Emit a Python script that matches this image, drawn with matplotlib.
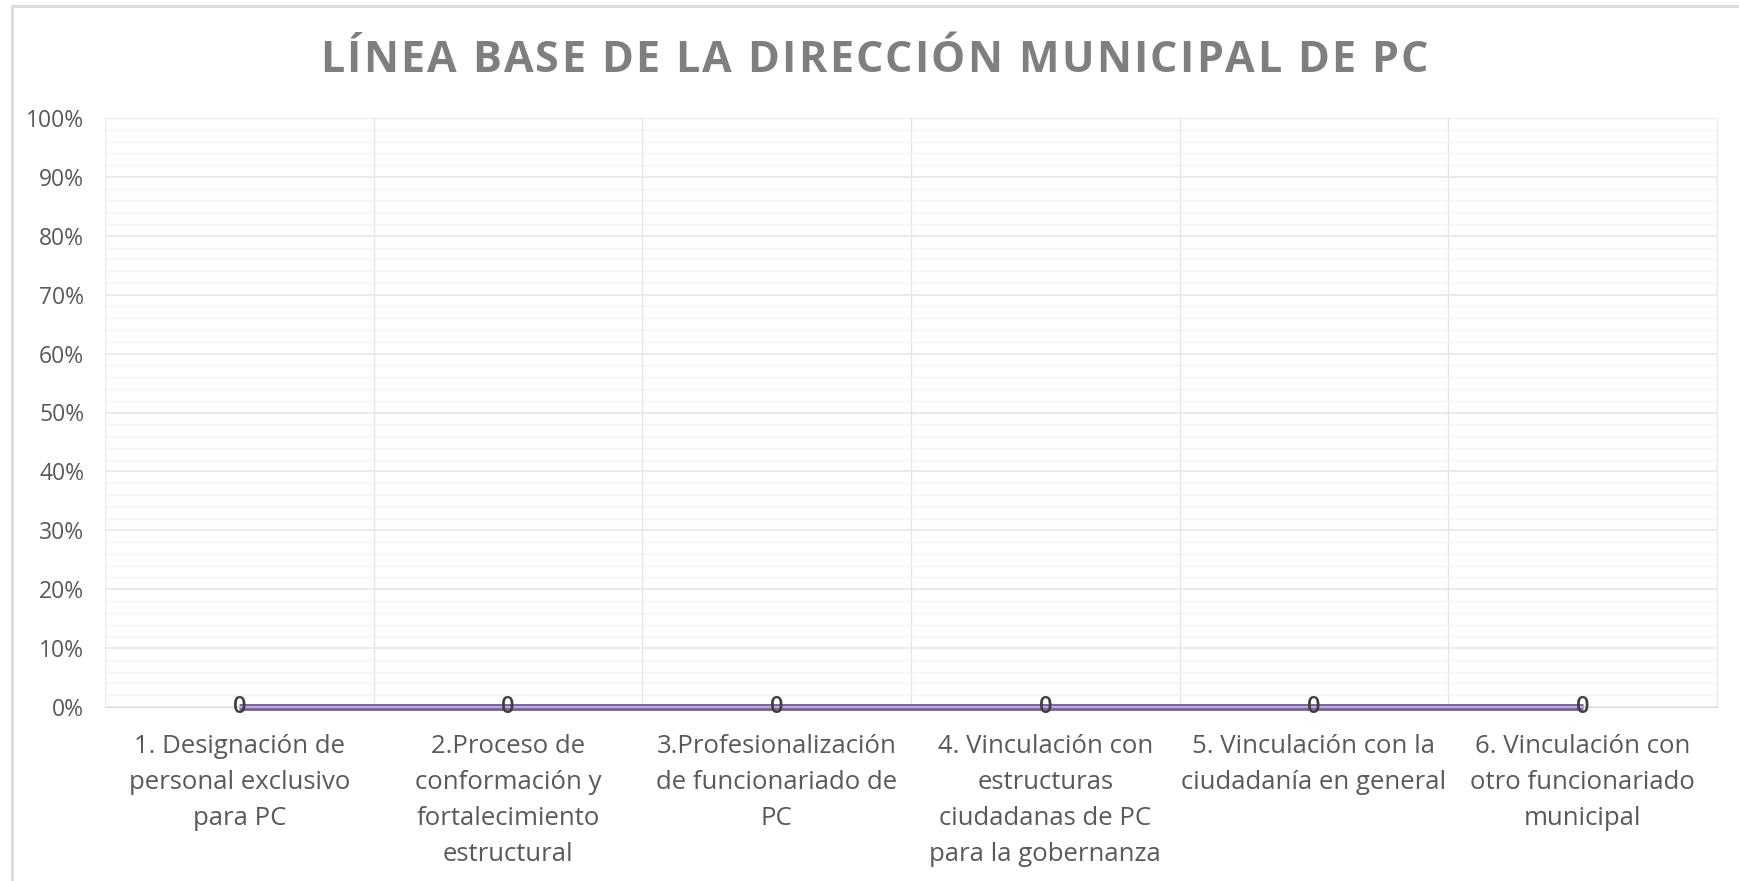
import matplotlib.pyplot as plt
from matplotlib.ticker import MultipleLocator, PercentFormatter, FixedLocator
from matplotlib.lines import Line2D

# Chart data
categories = [
  "1. Designación de\npersonal exclusivo\npara PC",
  "2.Proceso de\nconformación y\nfortalecimiento\nestructural",
  "3.Profesionalización\nde funcionariado de\nPC",
  "4. Vinculación con\nestructuras\nciudadanas de PC\npara la gobernanza",
  "5. Vinculación con la\nciudadanía en general",
  "6. Vinculación con\notro funcionariado\nmunicipal",
]
serie_base = [0, 0, 0, 0, 0, 0]
serie_meta = [0, 0, 0, 0, 0, 0]
y_ticks = [0, 10, 20, 30, 40, 50, 60, 70, 80, 90, 100]
title_text = "LÍNEA BASE DE LA DIRECCIÓN MUNICIPAL DE PC"

W, H = 1740, 881
plt.rcParams['font.family'] = ['Open Sans', 'DejaVu Sans']

fig = plt.figure(figsize=(W / 100, H / 100), dpi=100)
ax = fig.add_axes([105 / W, 1 - 707 / H, (1717 - 105) / W, (707 - 118) / H])

x = list(range(len(categories)))

# Lines (purple with lighter lower edge)
ax.plot(x, serie_base, color="#7F64A2", linewidth=5, solid_capstyle="butt", zorder=3, clip_on=False)
ax.plot(x, serie_meta, color="#C4B8D4", linewidth=1.3, solid_capstyle="butt", zorder=4, clip_on=False)

# Data labels
for xi, v in zip(x, serie_base):
  ax.text(xi, v, "{:g}".format(v), ha="center", va="center", fontsize=17, fontweight="semibold",
          color="#404040", zorder=5, clip_on=False)

ax.set_xlim(-0.5, len(categories) - 0.5)
ax.set_ylim(0, 100)

# Gridlines
ax.yaxis.set_major_locator(FixedLocator(y_ticks))
ax.yaxis.set_minor_locator(MultipleLocator(2))
ax.yaxis.set_major_formatter(PercentFormatter(decimals=0))
ax.xaxis.set_major_locator(FixedLocator(x))
ax.xaxis.set_minor_locator(FixedLocator([i + 0.5 for i in range(-1, len(categories))]))
ax.set_xticklabels(categories, fontsize=18.5, color="#595959", linespacing=1.58, va="top")

ax.grid(which="major", axis="y", color="#E6E6E6", linewidth=1.2, zorder=0)
ax.grid(which="minor", axis="y", color="#F3F3F3", linewidth=1.0, zorder=0)
ax.grid(which="minor", axis="x", color="#E6E6E6", linewidth=1.0, zorder=0)
ax.set_axisbelow(True)

ax.tick_params(axis="y", which="both", length=0, labelsize=16.5, labelcolor="#595959", pad=15)
ax.tick_params(axis="x", which="both", length=0, pad=19.5)

for s in ["top", "right", "left"]:
  ax.spines[s].set_color("#EBEBEB")
ax.spines["bottom"].set_color("#D9D9D9")

# Title with letter spacing: place each character by hand
renderer = fig.canvas.get_renderer()
title_props = dict(fontsize=31, fontweight="bold", color="#7F7F7F", va="center", ha="left")
tracking = 2.3
widths = []
for ch in title_text:
  t = fig.text(0, 0, ch if ch != " " else "a a", **title_props)
  w = t.get_window_extent(renderer).width
  if ch == " ":
    w = w - 2 * fig.text(0, 0, "a", **title_props).get_window_extent(renderer).width
    fig.texts.pop()
  widths.append(w)
  fig.texts.pop()
total = sum(widths) + tracking * (len(title_text) - 1)
cx = W / 2 - total / 2 + 4
for ch, w in zip(title_text, widths):
  if ch != " ":
    fig.text(cx / W, 1 - 61 / H, ch, **title_props)
  cx += w + tracking

# Chart border (only left and top are visible in the picture)
fig.lines.append(Line2D([12 / W, 12 / W], [0, 1 - 6 / H], transform=fig.transFigure,
                        color="#D9D9D9", linewidth=2))
fig.lines.append(Line2D([12 / W, 1], [1 - 6 / H, 1 - 6 / H], transform=fig.transFigure,
                        color="#D9D9D9", linewidth=2))

plt.savefig("out.png", dpi=100)
